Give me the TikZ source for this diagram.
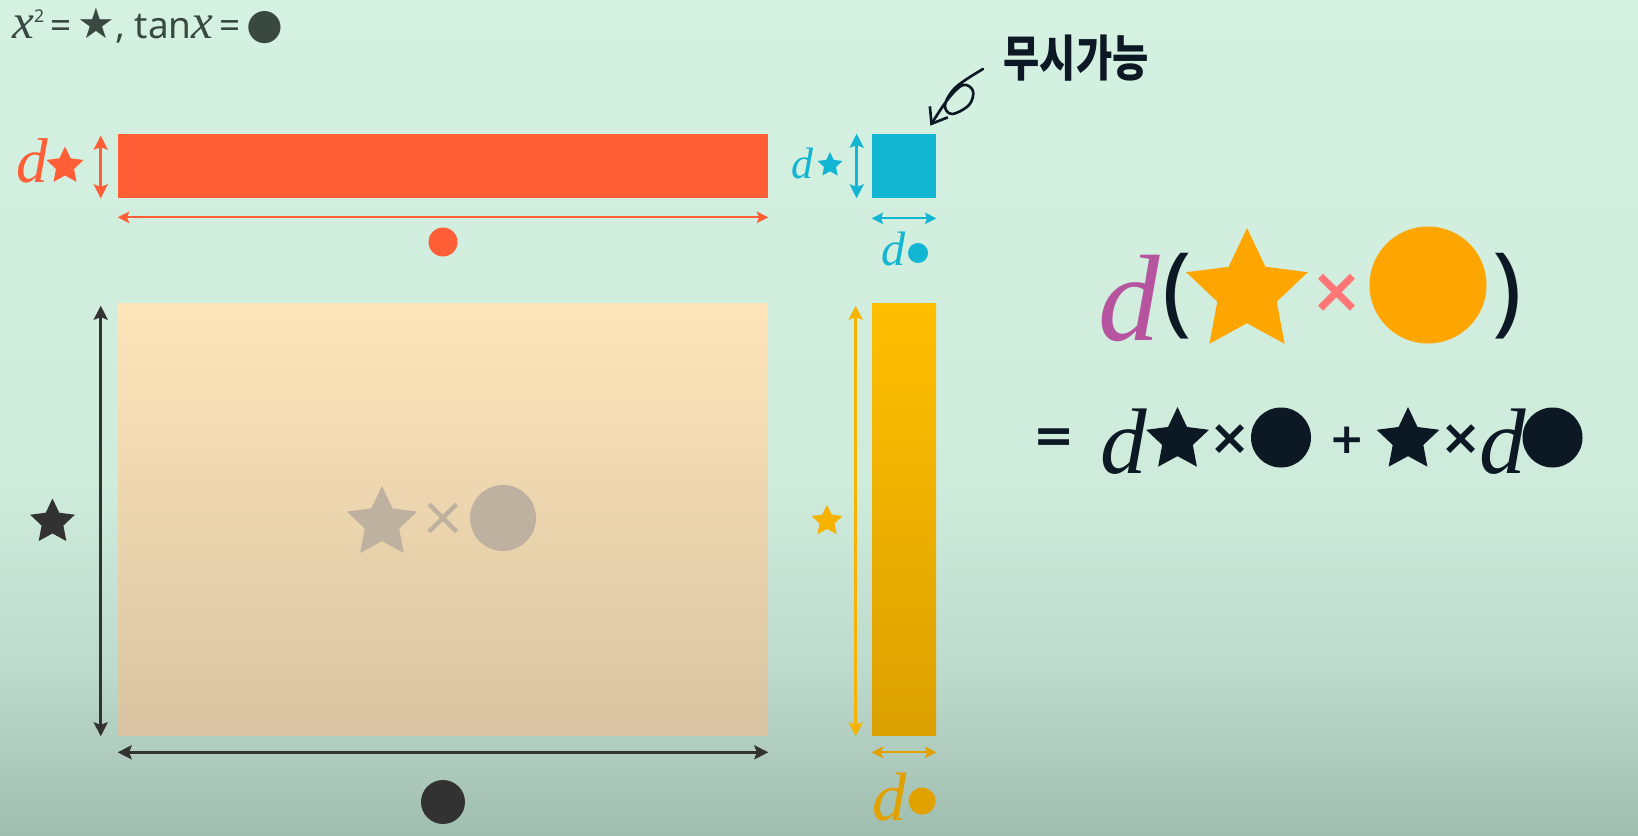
\documentclass[tikz,border=0pt]{standalone}
\usepackage{fontspec}
\setmainfont{Noto Sans}
\newfontfamily\serifit{Liberation Serif}
\newfontfamily\symfont{DejaVu Sans}
\newfontfamily\korfont{Noto Sans CJK KR}[FakeStretch=0.8]
\usepackage{tikz}
\usetikzlibrary{arrows.meta,calc,shapes.geometric}

\newcommand\fsz[1]{\fontsize{#1}{#1}\selectfont}
\newcommand\dvar[1]{{\fsz{#1}\serifit\itshape d}}

\definecolor{bgtop}{RGB}{213,241,226}
\definecolor{bglight}{RGB}{207,235,220}
\definecolor{bgmid}{RGB}{190,218,204}
\definecolor{bgbot}{RGB}{160,190,176}
\definecolor{redc}{RGB}{255,94,54}
\definecolor{bluec}{RGB}{18,181,210}
\definecolor{peachtop}{RGB}{254,229,186}
\definecolor{peachbot}{RGB}{216,196,162}
\definecolor{yeltop}{RGB}{255,191,0}
\definecolor{yelbot}{RGB}{218,160,0}
\definecolor{yelc}{RGB}{246,180,0}
\definecolor{goldc}{RGB}{225,162,0}
\definecolor{orangec}{RGB}{255,165,0}
\definecolor{pinkc}{RGB}{255,118,118}
\definecolor{magc}{RGB}{183,84,160}
\definecolor{inkc}{RGB}{12,24,36}
\definecolor{darkc}{RGB}{50,50,50}
\definecolor{greyc}{RGB}{190,177,160}
\definecolor{topc}{RGB}{58,72,66}

% the path is fit between 25bp and 75bp
\pgfdeclareverticalshading{bgshade}{100bp}{color(0bp)=(bgbot); color(25bp)=(bgbot); color(35bp)=(bgmid); color(46bp)=(bglight); color(75bp)=(bgtop); color(100bp)=(bgtop)}

\tikzset{
  dim/.style={line width=1.4pt,{Stealth[length=8pt,width=8pt,inset=1.5pt]}-{Stealth[length=8pt,width=8pt,inset=1.5pt]}},
  thindim/.style={line width=1.1pt,{Stealth[length=6.5pt,width=6.5pt,inset=1.2pt]}-{Stealth[length=6.5pt,width=6.5pt,inset=1.2pt]}},
  starsym/.style={star,star points=5,star point ratio=2.05,inner sep=0pt,minimum size=#1},
  dotsym/.style={circle,inner sep=0pt,minimum size=#1},
  barbox/.style={inner sep=0pt,minimum width=#1},
  opsym/.style={text=inkc,font=\symfont\bfseries\fsz{#1},inner sep=0pt},
}

\begin{document}
\begin{tikzpicture}[x=0.02cm,y=-0.02cm,line cap=round,line join=round]
\useasboundingbox (0,0) rectangle (1638,835);
\shade[shading=bgshade] (0,0) rectangle (1638,835);

% key line
\node[anchor=base west,text=topc,inner sep=0pt] (key) at (12,38)
  {{\fsz{28}\serifit\itshape x}\raisebox{9pt}{\fsz{10}2}{\fsz{21}\,=\,}{\symfont\fsz{24}★}{\fsz{21},\ tan}{\fsz{28}\serifit\itshape x}{\fsz{21}\,=\,}{\symfont\fsz{24}●}};

% thin strip on top
\node[barbox=13cm,minimum height=1.28cm,fill=redc] (redbar) at (443,166) {};
\node[anchor=base west,text=redc,inner sep=0pt] (redd) at (16,182) {\dvar{36}};
\node[starsym=0.78cm,fill=redc] (redstar) at (65,166) {};
\draw[dim,redc] ($(redbar.north west)+(-17,2)$) -- ($(redbar.south west)+(-17,0)$);
\draw[thindim,redc] ($(redbar.south west)+(0,19)$) -- ($(redbar.south east)+(0,19)$);
\node[dotsym=0.58cm,fill=redc] (reddot) at (443,242) {};

% corner square
\node[barbox=1.28cm,minimum height=1.28cm,fill=bluec] (bluesq) at (904,166) {};
\node[anchor=base west,text=bluec,inner sep=0pt] (blued) at (791,178) {\dvar{25}};
\node[starsym=0.52cm,fill=bluec] (bluestar) at (830,165) {};
\draw[dim,bluec] ($(bluesq.north west)+(-15,0)$) -- ($(bluesq.south west)+(-15,0)$);
\draw[thindim,bluec] ($(bluesq.south west)+(0,20)$) -- ($(bluesq.south east)+(0,20)$);
\node[anchor=base west,text=bluec,inner sep=0pt] (bluedd) at (881,265) {\dvar{27.5}};
\node[dotsym=0.4cm,fill=bluec] (bluedot) at (918,253) {};

% negligible
\node[text=inkc,font=\korfont\bfseries\fsz{28}] (ignore) at (1076,58) {무시가능};
\coordinate (curlstart) at (983,69);
\coordinate (curla) at (956,87);
\coordinate (curlb) at (945,105);
\coordinate (curlc) at (952,114);
\coordinate (curld) at (969,105);
\coordinate (curle) at (973,91);
\coordinate (curlf) at (963,85);
\coordinate (curlg) at (948,99);
\coordinate (curlend) at ($(bluesq.north east)+(-6,-8)$);
\draw[line width=1.5pt,inkc,-{Straight Barb[length=8pt,width=12pt]}]
  plot[smooth,tension=0.6] coordinates {(curlstart) (curla) (curlb) (curlc) (curld) (curle) (curlf) (curlg) (curlend)};

% main area
\node[barbox=13cm,minimum height=8.66cm,top color=peachtop,bottom color=peachbot] (area) at (443,519.5) {};
\draw[dim,darkc] ($(area.north west)+(-17,3)$) -- ($(area.south west)+(-17,0)$);
\draw[dim,darkc] ($(area.south west)+(0,16)$) -- ($(area.south east)+(0,16)$);
\node[starsym=0.94cm,fill=darkc] (sidestar) at (52.5,522) {};
\node[dotsym=0.88cm,fill=darkc] (basedot) at (443,802) {};
\node[starsym=1.48cm,fill=greyc] (areastar) at (382,523) {};
\node[text=greyc,font=\symfont\fsz{31},inner sep=0pt] (areatimes) at (443,519) {×};
\node[dotsym=1.32cm,fill=greyc] (areadot) at (503,518) {};

% thin strip on the side
\node[barbox=1.28cm,minimum height=8.66cm,top color=yeltop,bottom color=yelbot] (yelbar) at (904,519.5) {};
\draw[dim,yelc] ($(yelbar.north west)+(-16,3)$) -- ($(yelbar.south west)+(-16,0)$);
\draw[thindim,goldc] ($(yelbar.south west)+(0,16)$) -- ($(yelbar.south east)+(0,16)$);
\node[starsym=0.65cm,fill=yelc] (yelstar) at (827,521) {};
\node[anchor=base west,text=goldc,inner sep=0pt] (yeld) at (872,820) {\dvar{39}};
\node[dotsym=0.54cm,fill=goldc] (yeldot) at (922,801) {};

% product rule
\node[anchor=base west,text=magc,inner sep=0pt] (bigd) at (1098,340) {\dvar{70}};
\node[text=inkc,font=\fsz{56},inner sep=0pt] (lpar) at (1177,296) {(};
\node[starsym=2.56cm,fill=orangec] (bigstar) at (1247,292) {};
\node[opsym=36,text=pinkc] (bigtimes) at (1337,293) {×};
\node[dotsym=2.34cm,fill=orangec] (bigdot) at (1428,285) {};
\node[text=inkc,font=\fsz{56},inner sep=0pt] (rpar) at (1507,296) {)};

\node[opsym=28] (eq) at (1054,441) {=};
\node[anchor=base west,text=inkc,inner sep=0pt] (d1) at (1100,473) {\dvar{53}};
\node[starsym=1.32cm,fill=inkc] (s1) at (1177.5,440) {};
\node[opsym=28] (t1) at (1230,440) {×};
\node[dotsym=1.2cm,fill=inkc] (c1) at (1281,437.5) {};
\node[opsym=24] (plus) at (1347,440) {+};
\node[starsym=1.32cm,fill=inkc] (s2) at (1408,440) {};
\node[opsym=28] (t2) at (1461,440) {×};
\node[anchor=base west,text=inkc,inner sep=0pt] (d2) at (1479,473) {\dvar{53}};
\node[dotsym=1.2cm,fill=inkc] (c2) at (1552.5,437.5) {};
\end{tikzpicture}
\end{document}
